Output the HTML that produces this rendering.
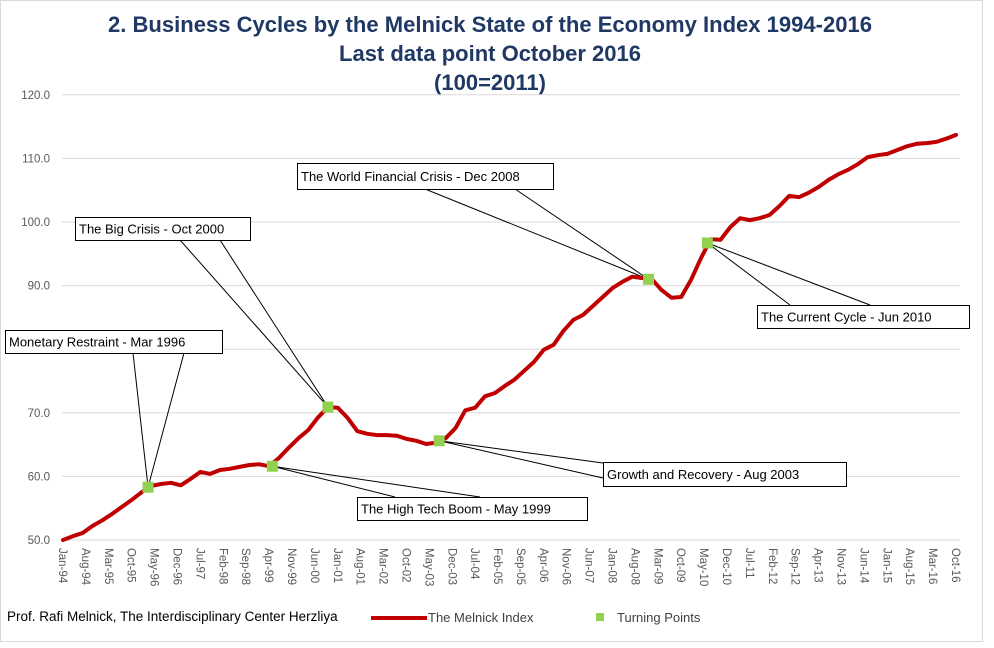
<!DOCTYPE html>
<html><head><meta charset="utf-8"><style>
html,body{margin:0;padding:0;background:#fff}
svg{display:block;font-family:"Liberation Sans",sans-serif}
</style></head><body>
<svg id="chart" width="994" height="648" viewBox="0 0 994 648">
<rect x="0.5" y="0.5" width="982" height="641" fill="#fff" stroke="#d9d9d9"/>
<g font-weight="bold" fill="#1f3864" font-size="22" text-anchor="middle">
<text x="490" y="32" textLength="764" lengthAdjust="spacingAndGlyphs">2.  Business Cycles by the Melnick State of the Economy Index 1994-2016</text>
<text x="490" y="61">Last data point  October 2016</text>
<text x="490" y="90">(100=2011)</text>
</g>
<g id="grid"></g><g id="yticks"></g><g id="xticks"></g>
<g id="callouts"></g>
<g id="series"></g>
<g>
<text x="7" y="621" font-size="13.5" fill="#000">Prof. Rafi Melnick, The Interdisciplinary Center Herzliya</text>
<g>
<line x1="371" y1="618" x2="427" y2="618" stroke="#c00000" stroke-width="4"/>
<text x="428" y="622" font-size="13" fill="#404040">The Melnick Index</text>
<rect x="596" y="613" width="8" height="8" fill="#92d050"/>
<text x="617" y="622" font-size="13" fill="#404040">Turning Points</text>
</g></g>
</svg>
<script>
// quarterly values: Jan, Apr, Jul, Oct from Jan-94 to Oct-16
const values=[50.0,50.6,51.1,52.2,53.1,54.1,55.2,56.3,57.5,58.5,58.8,59.0,58.6,59.6,60.7,60.4,61.0,61.2,61.5,61.8,61.9,61.6,62.9,64.5,66.0,67.3,69.3,70.9,70.8,69.2,67.1,66.7,66.5,66.5,66.4,65.9,65.6,65.1,65.3,66.0,67.6,70.4,70.8,72.6,73.1,74.2,75.2,76.6,78.0,79.9,80.7,82.9,84.6,85.4,86.8,88.2,89.6,90.6,91.4,91.2,91.0,89.3,88.1,88.2,90.9,94.3,97.3,97.2,99.2,100.6,100.3,100.6,101.1,102.5,104.1,103.9,104.6,105.5,106.6,107.5,108.2,109.1,110.2,110.5,110.7,111.3,111.9,112.3,112.4,112.6,113.1,113.7];
const turnMonths=[26,64,81,115,179,197];
const turnValues=[58.3,61.6,70.9,65.6,91.0,96.7];
const turnLabels=["Monetary Restraint - Mar 1996","The High  Tech Boom - May 1999","The Big Crisis - Oct 2000","Growth and Recovery - Aug 2003","The World Financial Crisis - Dec 2008","The Current Cycle - Jun 2010"];
const yTicks=[50,60,70,80,90,100,110,120];
const xTickLabels=["Jan-94","Aug-94","Mar-95","Oct-95","May-96","Dec-96","Jul-97","Feb-98","Sep-98","Apr-99","Nov-99","Jun-00","Jan-01","Aug-01","Mar-02","Oct-02","May-03","Dec-03","Jul-04","Feb-05","Sep-05","Apr-06","Nov-06","Jun-07","Jan-08","Aug-08","Mar-09","Oct-09","May-10","Dec-10","Jul-11","Feb-12","Sep-12","Apr-13","Nov-13","Jun-14","Jan-15","Aug-15","Mar-16","Oct-16"];
const NS="http://www.w3.org/2000/svg";
const X=m=>63+m*(893/273), Y=v=>540-(v-50)*6.36;
function mk(t,a,p){const e=document.createElementNS(NS,t);for(const k in a)e.setAttribute(k,a[k]);p.appendChild(e);return e;}
const grid=document.getElementById('grid'),yt=document.getElementById('yticks'),xt=document.getElementById('xticks');
yTicks.forEach(v=>{
 const l=mk('line',{x1:62,x2:960,y1:Y(v),y2:Y(v),stroke:'#d9d9d9','stroke-width':1},grid);
 
 
 const t=mk('text',{x:50,y:Y(v)+4,'text-anchor':'end','font-size':11.5,fill:'#595959'},yt);
 
 
 t.textContent=v.toFixed(1);
});
xTickLabels.forEach((s,i)=>{
 const x=X(i*7)-4;
 const t=mk('text',{x:0,y:0,transform:`translate(${x},548) rotate(90)`,'font-size':11.5,fill:'#595959'},xt);
 
 
 t.textContent=s;
});
// callouts: box geometry (layout only)
const boxes=[[5,330,217,23,133,353,184,353],[357,497,230,23,395,497,480,497],[75,217,175,23,180,240,220,240],[603,462,243,24,603,463,603,478],[297,163,256,26,425,189,515,189],[757,305,212,23,790,305,870,305]];
const cg=document.getElementById('callouts');
boxes.forEach((b,i)=>{
 const px=X(turnMonths[i]),py=Y(turnValues[i]);
 const p=mk('path',{d:`M${b[4]},${b[5]}L${px},${py}L${b[6]},${b[7]}`,fill:'none',stroke:'#000','stroke-width':1},cg);
 
 
 const r=mk('rect',{x:b[0]+.5,y:b[1]+.5,width:b[2],height:b[3],fill:'#fff',stroke:'#000','stroke-width':1},cg);
 
 
 const t=mk('text',{x:b[0]+4,y:b[1]+b[3]/2+5,'font-size':13,fill:'#000'},cg);
 
 
 t.textContent=turnLabels[i];
});
const sg=document.getElementById('series');
const pts=values.map((v,i)=>`${X(i*3).toFixed(1)},${Y(v).toFixed(1)}`).join(' ');
const line=mk('polyline',{points:pts,fill:'none',stroke:'#c00000','stroke-width':4,'stroke-linejoin':'round','stroke-linecap':'round'},sg);


turnMonths.forEach((m,i)=>{
 const r=mk('rect',{x:X(m)-5.5,y:Y(turnValues[i])-5.5,width:11,height:11,fill:'#92d050'},sg);
 
 
});
</script>
</body></html>
